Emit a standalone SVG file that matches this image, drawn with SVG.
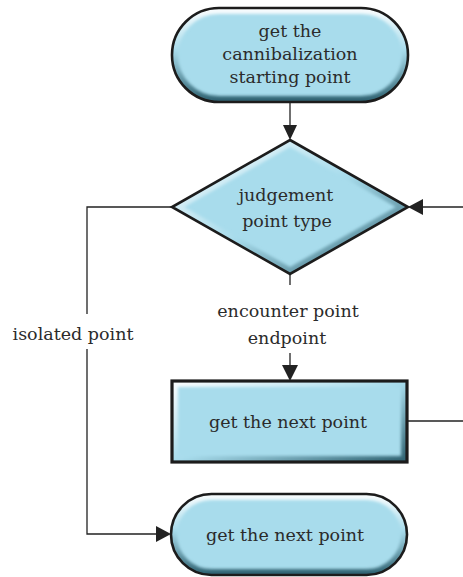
<svg xmlns="http://www.w3.org/2000/svg" xmlns:xlink="http://www.w3.org/1999/xlink" width="463" height="577" viewBox="0 0 463 577">
  <style>
    .face { fill: #a8dcec; }
    .edge { fill: none; stroke: #1c1c1c; stroke-width: 2.6; stroke-linejoin: miter; }
    .bevel { fill: none; stroke-width: 12; filter: url(#soft); }
    .lbl { font-family: "DejaVu Serif", "Liberation Serif", serif; font-size: 17.5px; fill: #2b2b2b; text-anchor: middle; }
    .wire { fill: none; stroke: #222; stroke-width: 1.3; }
    .head { fill: #222; }
  </style>
  <defs>
    <filter id="soft" x="-10%" y="-10%" width="120%" height="120%">
      <feGaussianBlur stdDeviation="1.8"/>
    </filter>
    <filter id="shadow" x="-10%" y="-10%" width="130%" height="130%">
      <feGaussianBlur stdDeviation="1.5"/>
    </filter>
    <linearGradient id="bevelV" x1="0" y1="0" x2="0" y2="1">
      <stop offset="0" stop-color="#ffffff" stop-opacity="0.95"/>
      <stop offset="0.45" stop-color="#a8dcec"/>
      <stop offset="1" stop-color="#2c5f6e"/>
    </linearGradient>
    <linearGradient id="bevelD" x1="0" y1="0" x2="1" y2="1">
      <stop offset="0" stop-color="#ffffff" stop-opacity="0.95"/>
      <stop offset="0.5" stop-color="#a8dcec"/>
      <stop offset="1" stop-color="#2c5f6e"/>
    </linearGradient>
    <rect id="pillTop" x="172" y="8" width="236" height="94" rx="47"/>
    <polygon id="dia" points="290,140 408,207 290,274 172,207"/>
    <rect id="box" x="172" y="381" width="235" height="81"/>
    <rect id="pillEnd" x="171" y="494" width="236" height="81" rx="40.5"/>
    <clipPath id="cpTop"><use xlink:href="#pillTop"/></clipPath>
    <clipPath id="cpDia"><use xlink:href="#dia"/></clipPath>
    <clipPath id="cpBox"><use xlink:href="#box"/></clipPath>
    <clipPath id="cpEnd"><use xlink:href="#pillEnd"/></clipPath>
  </defs>

  <!-- connectors -->
  <g id="connectors">
    <line class="wire" x1="290" y1="102" x2="290" y2="126"/>
    <polygon class="head" points="290,140 283,125 297,125"/>

    <line class="wire" x1="463" y1="207" x2="422" y2="207"/>
    <polygon class="head" points="408,207 423,199 423,215"/>

    <line class="wire" x1="290" y1="274" x2="290" y2="285"/>
    <line class="wire" x1="290" y1="353" x2="290" y2="366"/>
    <polygon class="head" points="290,381 282,365 298,365"/>

    <line class="wire" x1="407" y1="421" x2="463" y2="421"/>

    <polyline class="wire" points="172,207 87,207 87,314"/>
    <polyline class="wire" points="87,349 87,534 157,534"/>
    <polygon class="head" points="171,534 156,526 156,542"/>

    <text class="lbl" x="288" y="317">encounter point</text>
    <text class="lbl" x="287" y="344">endpoint</text>
    <text class="lbl" x="73" y="340">isolated point</text>
  </g>

  <!-- start terminal -->
  <g id="node-start">
    <use xlink:href="#pillTop" class="face"/>
    <g clip-path="url(#cpTop)"><use xlink:href="#pillTop" class="bevel" stroke="url(#bevelV)"/></g>
    <use xlink:href="#pillTop" class="edge"/>
    <text class="lbl" x="290" y="37">get the</text>
    <text class="lbl" x="290" y="60">cannibalization</text>
    <text class="lbl" x="290" y="83">starting point</text>
  </g>

  <!-- decision -->
  <g id="node-decision">
    <use xlink:href="#dia" class="face"/>
    <g clip-path="url(#cpDia)"><use xlink:href="#dia" class="bevel" stroke="url(#bevelD)"/></g>
    <use xlink:href="#dia" class="edge"/>
    <text class="lbl" x="286" y="201">judgement</text>
    <text class="lbl" x="287" y="227">point type</text>
  </g>

  <!-- process -->
  <g id="node-next">
    <use xlink:href="#box" class="face"/>
    <g clip-path="url(#cpBox)"><use xlink:href="#box" class="bevel" stroke="url(#bevelD)"/></g>
    <use xlink:href="#box" class="edge" style="stroke-width:3.2"/>
    <text class="lbl" x="288" y="428">get the next point</text>
  </g>

  <!-- end terminal -->
  <g id="node-end">
    <use xlink:href="#pillEnd" class="face"/>
    <g clip-path="url(#cpEnd)"><use xlink:href="#pillEnd" class="bevel" stroke="url(#bevelV)"/></g>
    <use xlink:href="#pillEnd" class="edge"/>
    <text class="lbl" x="285" y="541">get the next point</text>
  </g>
</svg>
